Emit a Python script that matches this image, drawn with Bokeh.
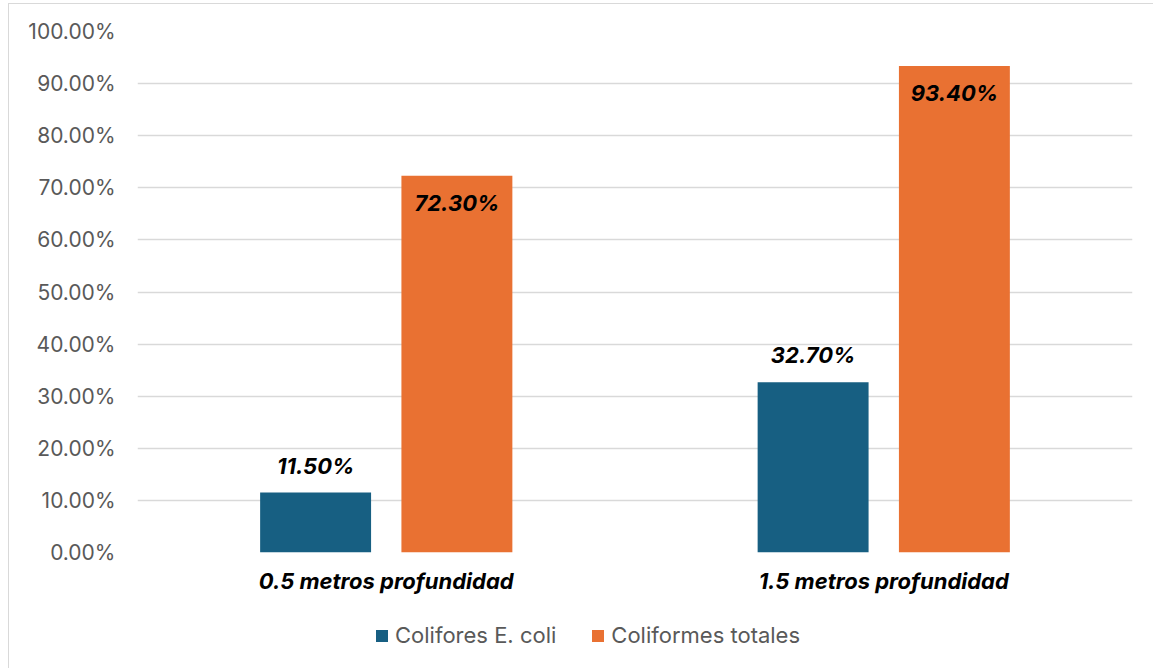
from bokeh.plotting import figure
from bokeh.layouts import column
from bokeh.models import (ColumnDataSource, FixedTicker, Legend, LegendItem,
                          Range1d)
from bokeh.core.properties import value
from bokeh.embed import file_html
from bokeh.resources import INLINE

# Sampling depths and the two bacterial indicators (share of positive samples, %)
categories = ["0.5 metros profundidad", "1.5 metros profundidad"]
series_names = ["Colifores E. coli", "Coliformes totales"]
ecoli = [11.5, 32.7]
totales = [72.3, 93.4]
y_ticks = [0, 10, 20, 30, 40, 50, 60, 70, 80, 90, 100]

BLUE = "#175F82"
ORANGE = "#E97132"
FONT = "Inter"
EDGE = "1px solid #d9d9d9"

centers = [i + 0.5 for i in range(len(categories))]
offset = 0.142
bar_w = 0.223

p = figure(
    frame_width=994, frame_height=520,
    min_border_left=128, min_border_right=22,
    min_border_top=27, min_border_bottom=49,
    x_range=Range1d(0, len(categories)), y_range=Range1d(0, 100),
    output_backend="svg", toolbar_location=None,
)
p.margin = (3, 0, 0, 8)
p.styles = {"border-left": EDGE, "border-top": EDGE}
p.outline_line_color = None
p.background_fill_color = "white"
p.border_fill_color = "white"

src_e = ColumnDataSource(dict(
    x=[c - offset for c in centers], top=ecoli,
    label=[f"{v:.2f}%" for v in ecoli]))
src_t = ColumnDataSource(dict(
    x=[c + offset for c in centers], top=totales,
    label=[f"{v:.2f}%" for v in totales]))

p.vbar(x="x", top="top", width=bar_w, source=src_e, fill_color=BLUE, line_color=None)
p.vbar(x="x", top="top", width=bar_w, source=src_t, fill_color=ORANGE, line_color=None)

# value labels: above the E. coli bars, inside the top of the total coliform bars
label_style = dict(text_font=value(FONT), text_font_size="22px",
                   text_font_style="bold italic", text_color="black",
                   text_align="center", text_baseline="middle")
p.text(x="x", y="top", text="label", source=src_e, y_offset=-27, **label_style)
p.text(x="x", y="top", text="label", source=src_t, y_offset=27, **label_style)

# axes
p.yaxis.ticker = FixedTicker(ticks=y_ticks)
p.yaxis.major_label_overrides = {t: f"{t:.2f}%" for t in y_ticks}
p.yaxis.axis_line_color = None
p.yaxis.major_tick_line_color = None
p.yaxis.minor_tick_line_color = None
p.yaxis.major_label_standoff = 16
p.yaxis.major_label_text_font = FONT
p.yaxis.major_label_text_font_size = "21px"
p.yaxis.major_label_text_color = "#595959"

p.xaxis.ticker = FixedTicker(ticks=centers)
p.xaxis.major_label_overrides = {c: name for c, name in zip(centers, categories)}
p.xaxis.axis_line_color = None
p.xaxis.major_tick_line_color = None
p.xaxis.minor_tick_line_color = None
p.xaxis.major_label_standoff = 9
p.xaxis.major_label_text_font = FONT
p.xaxis.major_label_text_font_size = "22px"
p.xaxis.major_label_text_font_style = "bold italic"
p.xaxis.major_label_text_color = "black"

p.xgrid.grid_line_color = None
p.ygrid.ticker = FixedTicker(ticks=y_ticks)
p.ygrid.grid_line_color = "#d9d9d9"
p.ygrid.grid_line_width = 1.3

# legend strip under the chart; its key renderers stay hidden
leg = figure(
    frame_width=1144, frame_height=68,
    min_border=0, x_range=Range1d(0, 1), y_range=Range1d(0, 1),
    x_axis_type=None, y_axis_type=None,
    output_backend="svg", toolbar_location=None,
)
leg.margin = (0, 0, 0, 8)
leg.styles = {"border-left": EDGE}
leg.outline_line_color = None
leg.xgrid.grid_line_color = None
leg.ygrid.grid_line_color = None
key_e = leg.vbar(x="x", top="top", width=bar_w, source=src_e,
                 fill_color=BLUE, line_color=None, visible=False)
key_t = leg.vbar(x="x", top="top", width=bar_w, source=src_t,
                 fill_color=ORANGE, line_color=None, visible=False)
legend = Legend(
    items=[LegendItem(label=series_names[0], renderers=[key_e]),
           LegendItem(label=series_names[1], renderers=[key_t])],
    orientation="horizontal", location=(365, 20),
    label_text_font=FONT, label_text_font_size="22px", label_text_color="#595959",
    glyph_width=15, glyph_height=15, spacing=34, label_standoff=6,
    border_line_color=None, background_fill_alpha=0, margin=0, padding=0,
    inactive_fill_alpha=0,
)
leg.add_layout(legend, "center")

layout = column(p, leg, spacing=0)
open("out.html", "w").write(file_html(layout, INLINE))
